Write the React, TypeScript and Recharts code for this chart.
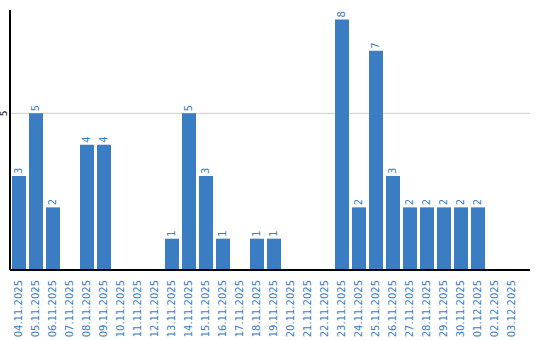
import { BarChart, Bar, XAxis, YAxis, CartesianGrid, LabelList } from 'recharts'

const days = [
  '04.11.2025', '05.11.2025', '06.11.2025', '07.11.2025', '08.11.2025', '09.11.2025',
  '10.11.2025', '11.11.2025', '12.11.2025', '13.11.2025', '14.11.2025', '15.11.2025',
  '16.11.2025', '17.11.2025', '18.11.2025', '19.11.2025', '20.11.2025', '21.11.2025',
  '22.11.2025', '23.11.2025', '24.11.2025', '25.11.2025', '26.11.2025', '27.11.2025',
  '28.11.2025', '29.11.2025', '30.11.2025', '01.12.2025', '02.12.2025', '03.12.2025',
]
const counts = [3, 5, 2, 0, 4, 4, 0, 0, 0, 1, 5, 3, 1, 0, 1, 1, 0, 0, 0, 8, 2, 7, 3, 2, 2, 2, 2, 2, 0, 0]
const yTicks = [5]

const data = days.map((day, i) => ({ day, count: counts[i] }))

const blue = '#3a7dc2'
const font = '"DejaVu Sans", sans-serif'

function DayTick({ x, y, payload }: any) {
  const ty = y + 2
  return (
    <text
      x={x}
      y={ty}
      transform={`rotate(-90 ${x} ${ty})`}
      textAnchor="end"
      dominantBaseline="central"
      fill={blue}
      fontSize={10}
      fontFamily={font}
    >
      {payload.value}
    </text>
  )
}

function CountTick({ y, payload }: any) {
  return (
    <text
      x={4}
      y={y}
      transform={`rotate(-90 4 ${y})`}
      textAnchor="middle"
      dominantBaseline="central"
      fill="#000"
      fontSize={9}
      fontFamily={font}
    >
      {payload.value}
    </text>
  )
}

function ValueLabel({ x, y, width, value }: any) {
  if (!value) return null
  const cx = x + width / 2
  const ty = y - 2
  return (
    <text
      x={cx}
      y={ty}
      transform={`rotate(-90 ${cx} ${ty})`}
      textAnchor="start"
      dominantBaseline="central"
      fill={blue}
      fontSize={10}
      fontFamily={font}
    >
      {value}
    </text>
  )
}

export default function App() {
  return (
    <div style={{ position: 'absolute', left: 0, top: 0, background: '#fff' }}>
      <BarChart
        width={540}
        height={340}
        data={data}
        margin={{ top: 10, right: 10, bottom: 0, left: 0 }}
        barSize={14}
      >
        <CartesianGrid horizontal vertical={false} stroke="#cccccc" horizontalValues={yTicks} />
        <XAxis
          dataKey="day"
          interval={0}
          height={70}
          tick={<DayTick />}
          tickLine={false}
          axisLine={{ stroke: '#000', strokeWidth: 2 }}
          padding={{ left: 0, right: 10 }}
        />
        <YAxis
          domain={[0, 8.3]}
          ticks={yTicks}
          width={10}
          tick={<CountTick />}
          tickLine={false}
          axisLine={{ stroke: '#000', strokeWidth: 2 }}
        />
        <Bar dataKey="count" fill={blue} isAnimationActive={false}>
          <LabelList dataKey="count" content={<ValueLabel />} />
        </Bar>
      </BarChart>
    </div>
  )
}
